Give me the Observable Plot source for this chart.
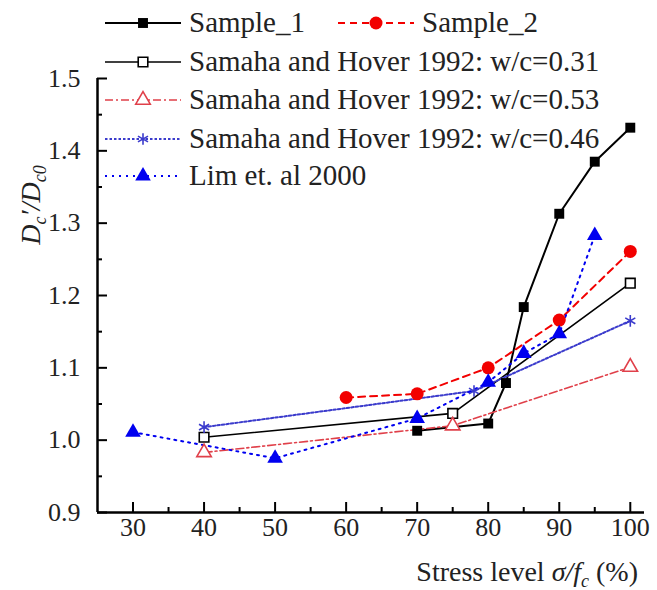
<!DOCTYPE html>
<html><head><meta charset="utf-8">
<script src="https://cdn.jsdelivr.net/npm/d3@7"></script>
<script src="https://cdn.jsdelivr.net/npm/@observablehq/plot@0.6"></script>
</head><body style="margin:0;background:#fff">
<div id="wrap" style="position:relative;width:657px;height:590px;overflow:hidden;font-family:'Liberation Serif';color:#222"></div>
<script>
// ---- data ----
const xTicks = [30, 40, 50, 60, 70, 80, 90, 100];
const xMinorTicks = [35, 45, 55, 65, 75, 85, 95];
const yTicks = [0.9, 1.0, 1.1, 1.2, 1.3, 1.4, 1.5];
const yMinorTicks = [0.95, 1.05, 1.15, 1.25, 1.35, 1.45];
const xDomain = [25, 102];
const yDomain = [0.9, 1.5];

const seriesNames = [
  "Sample_1",
  "Sample_2",
  "Samaha and Hover 1992: w/c=0.31",
  "Samaha and Hover 1992: w/c=0.53",
  "Samaha and Hover 1992: w/c=0.46",
  "Lim et. al 2000"
];

const sample1X = [70, 80, 82.5, 85, 90, 95, 100];
const sample1Y = [1.013, 1.023, 1.079, 1.184, 1.313, 1.385, 1.432];
const sample2X = [60, 70, 80, 90, 100];
const sample2Y = [1.059, 1.064, 1.100, 1.166, 1.261];
const samaha031X = [40, 75, 100];
const samaha031Y = [1.004, 1.037, 1.217];
const samaha053X = [40, 75, 100];
const samaha053Y = [0.983, 1.020, 1.101];
const samaha046X = [40, 78, 100];
const samaha046Y = [1.018, 1.068, 1.165];
const limX = [30, 50, 70, 80, 85, 90, 95];
const limY = [1.011, 0.975, 1.030, 1.080, 1.120, 1.147, 1.283];

const seriesX = [sample1X, sample2X, samaha031X, samaha053X, samaha046X, limX];
const seriesY = [sample1Y, sample2Y, samaha031Y, samaha053Y, samaha046Y, limY];

// ---- layout & styles ----
const W = 657, H = 590, ML = 97, MR = 13, MT = 78, MB = 78;
const plotW = W - ML - MR, plotH = H - MT - MB;
const yPerPx = (yDomain[1] - yDomain[0]) / plotH;
const xPerPx = (xDomain[1] - xDomain[0]) / plotW;
const styles = [
  {stroke: "#000", width: 2, dash: null, symbol: "square", r: 5.6, fill: "#000", mstroke: "none"},
  {stroke: "#f20000", width: 2, dash: "7,5", symbol: "circle", r: 6.5, fill: "#f20000", mstroke: "none"},
  {stroke: "#000", width: 1.6, dash: null, symbol: "square", r: 5.4, fill: "#fff", mstroke: "#000"},
  {stroke: "#e0404a", width: 1.6, dash: "8,3,2,3", symbol: "triangle", r: 5.4, fill: "#fff", mstroke: "#e0404a"},
  {stroke: "#3b3bcc", width: 2, dash: "2.5,2", symbol: "asterisk", r: 5.5, fill: "none", mstroke: "#3b3bcc"},
  {stroke: "#0000f0", width: 2, dash: "2,5", symbol: "triangle", r: 5.8, fill: "#0000f0", mstroke: "none"}
];

const tables = seriesNames.map((name, k) =>
  seriesX[k].map((x, i) => ({series: name, x, y: seriesY[k][i]})));

const lineMarks = tables.map((t, k) => Plot.line(t, {
  x: "x", y: "y", stroke: styles[k].stroke, strokeWidth: styles[k].width,
  strokeDasharray: styles[k].dash
}));
const dotMarks = tables.map((t, k) => Plot.dot(t, {
  x: "x", y: "y", symbol: () => styles[k].symbol, r: styles[k].r,
  fill: styles[k].fill, stroke: styles[k].mstroke, strokeWidth: 1.6
}));

const chart = Plot.plot({
  width: W, height: H,
  marginLeft: ML, marginRight: MR, marginTop: MT, marginBottom: MB,
  style: "font-family:'Liberation Serif';font-size:26px;color:#000;background:#fff;overflow:visible",
  x: {domain: xDomain, label: null},
  y: {domain: yDomain, label: null},
  symbol: {type: "identity"},
  marks: [
    // inward tick marks
    Plot.ruleX(xTicks, {x: d => d, y1: yDomain[0], y2: yDomain[0] + 10 * yPerPx, strokeWidth: 2, stroke: "#000"}),
    Plot.ruleX(xMinorTicks, {x: d => d, y1: yDomain[0], y2: yDomain[0] + 5 * yPerPx, strokeWidth: 2, stroke: "#000"}),
    Plot.ruleY(yTicks, {y: d => d, x1: xDomain[0], x2: xDomain[0] + 10 * xPerPx, strokeWidth: 2, stroke: "#000"}),
    Plot.ruleY(yMinorTicks, {y: d => d, x1: xDomain[0], x2: xDomain[0] + 5 * xPerPx, strokeWidth: 2, stroke: "#000"}),
    // tick labels
    Plot.axisX({ticks: xTicks, tickSize: 0, tickPadding: 5, label: null, fontSize: 26, fontFamily: "Liberation Serif", fill: "#222"}),
    Plot.axisY({ticks: yTicks, tickSize: 0, tickPadding: 17, label: null, fontSize: 26, fontFamily: "Liberation Serif", fill: "#222", tickFormat: d3.format(".1f")}),
    Plot.ruleY([yDomain[0]], {strokeWidth: 2.5}),
    Plot.ruleX([xDomain[0]], {strokeWidth: 2.5}),
    ...lineMarks,
    ...dotMarks
  ]
});

const wrap = document.getElementById("wrap");
wrap.appendChild(chart);

// ---- legend: line samples + markers in an overlay svg, text in html ----
const svg = d3.create("svg").attr("width", W).attr("height", H)
  .attr("style", "position:absolute;left:0;top:0;pointer-events:none");
const legendCols = [105, 338];
const legendRowsY = [23, 62, 100, 139, 176];
const legendPos = [[0, 0], [1, 0], [0, 1], [0, 2], [0, 3], [0, 4]];
const symTypes = {square: d3.symbolSquare, circle: d3.symbolCircle, triangle: d3.symbolTriangle, asterisk: d3.symbolAsterisk};
const TXT = "position:absolute;font-family:'Liberation Serif';font-size:29px;line-height:32px;white-space:nowrap;color:#222;";
let html = "";

seriesNames.forEach((name, k) => {
  const s = styles[k];
  const x0 = legendCols[legendPos[k][0]];
  const y0 = legendRowsY[legendPos[k][1]];
  const g = svg.append("g").attr("transform", `translate(${x0},${y0})`);
  g.append("line").attr("x1", 0).attr("x2", 76).attr("y1", 0).attr("y2", 0)
    .attr("stroke", s.stroke).attr("stroke-width", s.width)
    .attr("stroke-dasharray", s.dash);
  g.append("path").attr("transform", "translate(38,0)")
    .attr("d", d3.symbol(symTypes[s.symbol], Math.PI * s.r * s.r)())
    .attr("fill", s.fill).attr("stroke", s.mstroke).attr("stroke-width", 1.6);
  html += `<div style="${TXT}left:${x0 + 84}px;top:${y0 - 17}px">${name}</div>`;
});
wrap.appendChild(svg.node());

const SUB = "font-size:18px;vertical-align:-6px;line-height:0";
html += `<div style="${TXT}font-size:28px;left:31px;top:205px;transform:translate(-50%,-50%) rotate(-90deg)"><i>D</i><sub style="${SUB}"><i>c</i></sub><i>′/D</i><sub style="${SUB}"><i>c0</i></sub></div>`;
html += `<div style="${TXT}font-size:28px;right:${W - 638}px;top:556px">Stress level <i>σ/f</i><sub style="${SUB}"><i>c</i></sub> (%)</div>`;
wrap.insertAdjacentHTML("beforeend", html);
</script>
</body></html>
